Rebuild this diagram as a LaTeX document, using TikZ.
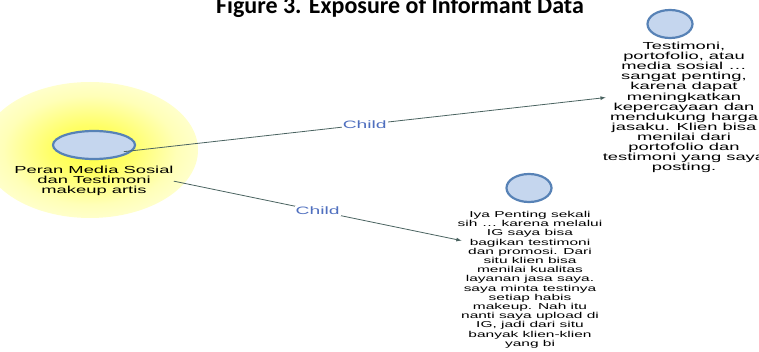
\documentclass[tikz,border=0pt]{standalone}
\usepackage{fontspec}
\setmainfont{Liberation Sans}
\newfontfamily\nodefont[FakeStretch=1.8]{Liberation Sans}
\newfontfamily\titlefont{Carlito}
\usetikzlibrary{positioning,shapes.geometric}
\definecolor{ballfill}{HTML}{C5D6EE}
\definecolor{balledge}{HTML}{5782B6}
\definecolor{linkgray}{HTML}{4A6360}
\definecolor{childblue}{HTML}{4F6FBF}
\pgfdeclareradialshading{glow}{\pgfpoint{0bp}{0bp}}{color(0bp)=(yellow!75);
  color(9bp)=(yellow!60);color(20bp)=(yellow!28);color(34bp)=(yellow!7);
  color(50bp)=(white)}

\begin{document}
\begin{tikzpicture}[x=1pt,y=-1pt,
  ball/.style = {ellipse, draw=balledge, line width=2.2pt, fill=ballfill,
    minimum width=45pt, minimum height=28pt, inner sep=0pt},
  code/.style = {align=center, inner sep=0pt,
    font=\nodefont\fontsize{10.2}{10.1}\selectfont},
  link/.style = {draw=linkgray, line width=0.8pt, -latex},
  tag/.style = {text=childblue, fill=white, inner sep=1pt,
    font=\nodefont\fontsize{10.7}{11}\selectfont}
  ]
  \useasboundingbox (0,0) rectangle (759,352);
  \shade[shading=glow] (90,150) ellipse [x radius=108, y radius=68];

  \node[font=\titlefont\bfseries\fontsize{24}{28}\selectfont, anchor=base] (title)
    at (400,14) {Figure 3. Exposure of Informant Data};

  % root
  \node[ball, minimum width=82pt] (root) at (94,145) {};
  \node[code, below=6pt of root] (rootlbl)
    {Peran Media Sosial\\dan Testimoni\\makeup artis};

  % children
  \node[ball] (top) at (670,24) {};
  \node[code, anchor=north] (toplbl) at (684,42)
    {Testimoni,\\portofolio, atau\\media sosial \dots\\sangat penting,\\
     karena dapat\\meningkatkan\\kepercayaan dan\\mendukung harga\\
     jasaku. Klien bisa\\menilai dari\\portofolio dan\\testimoni yang saya\\
     posting.};
  \node[ball] (bot) at (529,188) {};
  \node[code, anchor=north, font=\nodefont\fontsize{8.6}{9.2}\selectfont]
    (botlbl) at (530,211)
    {Iya Penting sekali\\sih \dots\ karena melalui\\IG saya bisa\\
     bagikan testimoni\\dan promosi. Dari\\situ klien bisa\\
     menilai kualitas\\layanan jasa saya.\\saya minta testinya\\
     setiap habis\\makeup. Nah itu\\nanti saya upload di\\
     IG, jadi dari situ\\banyak klien-klien\\yang bi};

  \draw[link] ([yshift=4pt]root.south east)
    -- node[tag] {Child} ([xshift=3pt,yshift=10pt]toplbl.west);
  \draw[link] (rootlbl.east)
    -- node[tag] {Child} ([xshift=4pt,yshift=39pt]botlbl.west);
\end{tikzpicture}
\end{document}
